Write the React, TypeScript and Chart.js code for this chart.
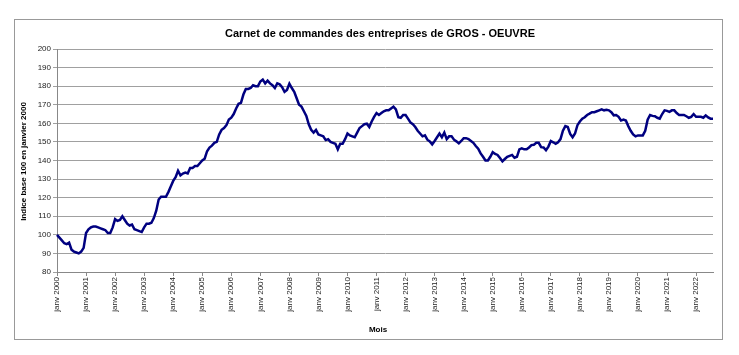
import React, { useEffect, useRef } from "react";
import { Chart, registerables } from "chart.js";

Chart.register(...registerables);

const chartTitle = "Carnet de commandes des entreprises de GROS - OEUVRE";
const yAxisTitle = "Indice base 100 en janvier 2000";
const xAxisTitle = "Mois";
const monthNames = ["janv", "févr", "mars", "avr", "mai", "juin", "juil", "août", "sept", "oct", "nov", "déc"];
const years = [2000, 2001, 2002, 2003, 2004, 2005, 2006, 2007, 2008, 2009, 2010, 2011, 2012, 2013, 2014, 2015, 2016, 2017, 2018, 2019, 2020, 2021, 2022];

const v2000 = [100, 98.5, 97, 95.5, 95, 95.8, 92, 91, 90.5, 90, 91, 93];
const v2001 = [101, 103, 104, 104.5, 104.5, 104, 103.5, 103, 102.5, 101, 101, 104];
const v2002 = [108.5, 107.5, 108, 110, 108, 106, 105, 105.5, 103, 102.5, 102, 101.5];
const v2003 = [104, 106, 106, 106.5, 109, 113, 119, 120.5, 120.5, 120.5, 123, 126];
const v2004 = [129, 131, 134.5, 132, 133, 133.5, 133, 136, 136, 137, 137, 138.5];
const v2005 = [140, 141, 145, 147, 148, 149.5, 150, 154, 156.5, 157.5, 159, 162];
const v2006 = [163, 165, 168, 170.5, 171, 175.5, 178.5, 178.5, 179, 180.5, 180, 180];
const v2007 = [182.5, 183.5, 181.5, 183, 181.5, 180.5, 179, 181.5, 181, 179.5, 177, 178];
const v2008 = [181.3, 179, 177, 173.5, 170, 169, 166.5, 164, 159.5, 156.5, 155, 156.5];
const v2009 = [154, 153.5, 153, 151, 151.5, 150, 149.5, 149, 146, 149, 149, 151.5];
const v2010 = [154.5, 153.5, 153, 152.5, 155, 157.5, 158.5, 159.5, 159.8, 158, 161, 163.5];
const v2011 = [165.5, 164.5, 165.5, 166.5, 167, 167, 168, 169, 167.5, 163.3, 163, 164.5];
const v2012 = [164.5, 162.5, 160.5, 159.5, 158, 156, 154.5, 153, 153.5, 151.2, 150.3, 148.7];
const v2013 = [150.5, 152.5, 154.5, 152.5, 155, 151.5, 153, 153, 151.2, 150.3, 149.2, 150.5];
const v2014 = [152, 152, 151.5, 150.5, 149.5, 147.8, 146.3, 143.8, 142, 140, 140, 142];
const v2015 = [144.5, 143.5, 143, 141.3, 139.5, 140.8, 142, 142.5, 143, 141.5, 142, 146];
const v2016 = [146.5, 146, 146, 147, 148.3, 148.5, 149.5, 149.5, 147.2, 147, 145.5, 147.5];
const v2017 = [150.5, 149.8, 149, 149.8, 151.5, 156, 158.5, 158, 154.3, 152.5, 154.5, 159];
const v2018 = [161, 162.5, 163.3, 164.5, 165.2, 166, 166, 166.5, 167, 167.5, 167, 167.3];
const v2019 = [167, 166, 164.3, 164.5, 163.5, 161.5, 162, 161.5, 158.5, 156, 154, 153];
const v2020 = [153.5, 153.5, 153.5, 156, 162, 164.5, 164, 163.8, 163, 162.5, 165, 167];
const v2021 = [166.7, 166.2, 167, 167, 165.5, 164.5, 164.5, 164.5, 163.8, 163, 163.5, 165];
const v2022 = [163.5, 163.5, 163.5, 163, 164.3, 163.2, 162.5, 162.5];

const yearlyValues = [v2000, v2001, v2002, v2003, v2004, v2005, v2006, v2007, v2008, v2009, v2010, v2011,
  v2012, v2013, v2014, v2015, v2016, v2017, v2018, v2019, v2020, v2021, v2022];

const yMin = 80;
const yMax = 200;
const yStep = 10;

const FONT = 'Arial, "Liberation Sans", sans-serif';

export default function App() {
  const ref = useRef<HTMLCanvasElement | null>(null);

  useEffect(() => {
    if (!ref.current) return;
    const labels: string[] = [];
    const values: number[] = [];
    yearlyValues.forEach((arr, yi) => {
      arr.forEach((v, m) => {
        labels.push(`${monthNames[m]} ${years[yi]}`);
        values.push(v);
      });
    });

    const textPlugin = {
      id: "textPlugin",
      afterDraw(chart: any) {
        const { ctx, chartArea } = chart;
        ctx.save();
        ctx.fillStyle = "#000";
        ctx.textAlign = "center";
        ctx.textBaseline = "middle";
        ctx.font = `bold 11px ${FONT}`;
        ctx.fillText(chartTitle, chartArea.left + (chartArea.right - chartArea.left) / 2 - 5, 14);
        ctx.font = `bold 8px ${FONT}`;
        ctx.fillText(xAxisTitle, chartArea.left + (chartArea.right - chartArea.left) / 2 - 7, 310);
        ctx.translate(9, (chartArea.top + chartArea.bottom) / 2 + 1);
        ctx.rotate(-Math.PI / 2);
        ctx.fillText(yAxisTitle, 0, 0);
        ctx.restore();
      },
    };

    const chart = new Chart(ref.current, {
      type: "line",
      data: {
        labels,
        datasets: [
          {
            data: values,
            borderColor: "#000080",
            borderWidth: 2.5,
            pointRadius: 0,
            tension: 0,
            fill: false,
          },
        ],
      },
      options: {
        animation: false,
        responsive: false,
        devicePixelRatio: 1,
        layout: { padding: { top: 29, right: 9, bottom: 0, left: 0 } },
        plugins: {
          legend: { display: false },
          title: { display: false },
          tooltip: { enabled: false },
        },
        scales: {
          x: {
            type: "category",
            offset: false,
            afterFit: (scale: any) => {
              scale.height = 67;
            },
            grid: {
              display: true,
              drawOnChartArea: false,
              drawTicks: true,
              tickLength: 4,
              color: "#888",
            },
            border: { display: true, color: "#888", width: 1 },
            ticks: {
              autoSkip: false,
              maxRotation: 90,
              minRotation: 90,
              padding: 1,
              color: "#222",
              font: { family: FONT, size: 8 },
              callback: function (this: any, value: any, index: number) {
                return index % 12 === 0 ? this.getLabelForValue(value) : null;
              },
            },
          },
          y: {
            min: yMin,
            max: yMax,
            afterFit: (scale: any) => {
              scale.width = 42;
            },
            grid: {
              display: true,
              drawOnChartArea: true,
              drawTicks: true,
              tickLength: 4,
              color: "#a0a0a0",
            },
            border: { display: true, color: "#888", width: 1 },
            ticks: {
              stepSize: yStep,
              padding: 2,
              color: "#222",
              font: { family: FONT, size: 8 },
            },
          },
        },
      },
      plugins: [textPlugin],
    });
    return () => chart.destroy();
  }, []);

  return (
    <div
      style={{
        position: "absolute",
        left: 14,
        top: 19,
        width: 707,
        height: 319,
        border: "1px solid #999",
        background: "#fff",
      }}
    >
      <canvas ref={ref} width={707} height={319} style={{ display: "block" }} />
    </div>
  );
}
